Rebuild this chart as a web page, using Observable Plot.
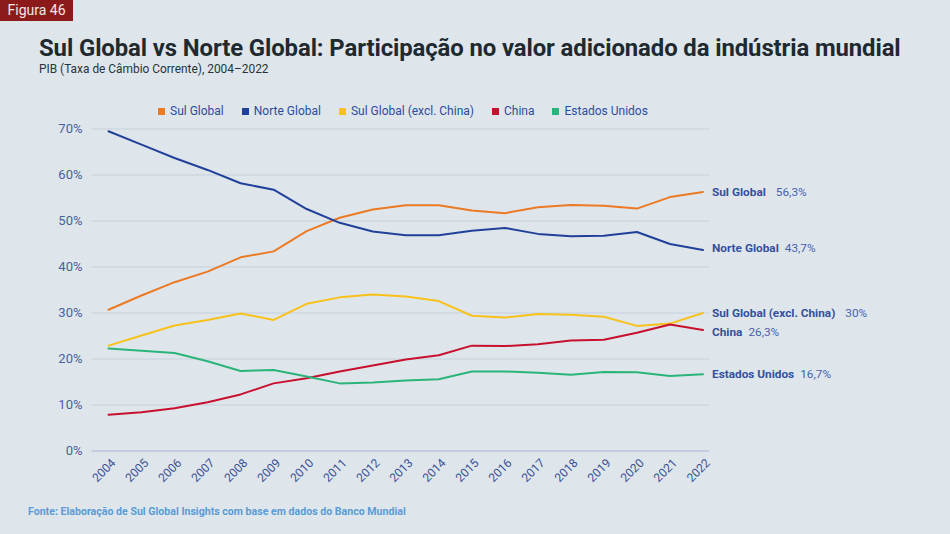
<!DOCTYPE html>
<html>
<head>
<meta charset="utf-8">
<script src="https://cdn.jsdelivr.net/npm/d3@7"></script>
<script src="https://cdn.jsdelivr.net/npm/@observablehq/plot@0.6"></script>
<style>
  html, body { margin: 0; padding: 0; }
  body { width: 950px; height: 534px; background: #dee6ec; font-family: Roboto, "Noto Sans", sans-serif; position: relative; overflow: hidden; }
  #badge { position: absolute; left: 0; top: 0; width: 73px; height: 21px; background: #8c1a1a; color: #f3e6e6; font-size: 14px; line-height: 21px; text-align: center; }
  #title { position: absolute; left: 39px; top: 34px; font-size: 23.9px; font-weight: 700; color: #1e2a30; white-space: nowrap; letter-spacing: -0.1px; }
  #subtitle { position: absolute; left: 39px; top: 62px; font-size: 11.9px; color: #2a3338; white-space: nowrap; }
  #legend { position: absolute; left: 158px; top: 104px; display: flex; gap: 18px; font-size: 12px; color: #2f4b9c; white-space: nowrap; }
  #legend .item { display: flex; align-items: center; gap: 5px; }
  #legend .sw { width: 7px; height: 7px; display: inline-block; }
  #chart { position: absolute; left: 0; top: 100px; }
  #footer { position: absolute; left: 28px; top: 505px; font-size: 10.6px; font-weight: 700; color: #5b9bd6; white-space: nowrap; }
</style>
</head>
<body>
<div id="badge">Figura 46</div>
<div id="title">Sul Global vs Norte Global: Participação no valor adicionado da indústria mundial</div>
<div id="subtitle">PIB (Taxa de Câmbio Corrente), 2004–2022</div>
<div id="legend"></div>
<div id="chart"></div>
<div id="footer">Fonte: Elaboração de Sul Global Insights com base em dados do Banco Mundial</div>
<script>
const years = [2004,2005,2006,2007,2008,2009,2010,2011,2012,2013,2014,2015,2016,2017,2018,2019,2020,2021,2022];
const seriesNames = ["Sul Global", "Norte Global", "Sul Global (excl. China)", "China", "Estados Unidos"];
const seriesColors = ["#ec7a23", "#21409a", "#f8c21a", "#c8102e", "#2bb47a"];
const sulGlobal     = [30.7,33.8,36.7,39.0,42.1,43.4,47.8,50.7,52.5,53.4,53.4,52.3,51.7,53.0,53.5,53.3,52.7,55.2,56.3];
const norteGlobal   = [69.5,66.6,63.7,61.1,58.2,56.8,52.6,49.6,47.7,46.9,46.9,47.9,48.5,47.2,46.7,46.8,47.6,45.0,43.7];
const sulExclChina  = [22.9,25.1,27.3,28.5,29.9,28.5,32.0,33.4,34.0,33.6,32.6,29.4,29.0,29.8,29.6,29.2,27.2,27.7,30.0];
const china         = [7.9,8.4,9.3,10.6,12.3,14.7,15.8,17.3,18.6,19.9,20.8,22.9,22.8,23.2,24.0,24.2,25.7,27.5,26.3];
const estadosUnidos = [22.3,21.8,21.3,19.5,17.4,17.6,16.2,14.7,14.9,15.3,15.6,17.3,17.3,17.0,16.6,17.2,17.1,16.3,16.7];
const endValueLabels = ["56,3%", "43,7%", "30%", "26,3%", "16,7%"];
const yTicks = [0,10,20,30,40,50,60,70];

const allValues = [sulGlobal, norteGlobal, sulExclChina, china, estadosUnidos];
const data = [];
seriesNames.forEach((name, i) => {
  years.forEach((yr, j) => data.push({series: name, year: yr, value: allValues[i][j]}));
});
const lastPoints = seriesNames.map((name, i) => ({series: name, year: years[years.length - 1], value: allValues[i][years.length - 1], label: endValueLabels[i]}));

// legend
const legend = document.getElementById("legend");
seriesNames.forEach((name, i) => {
  const it = document.createElement("span");
  it.className = "item";
  it.innerHTML = `<span class="sw" style="background:${seriesColors[i]}"></span><span>${name}</span>`;
  legend.appendChild(it);
});

const labelColor = "#34509e";
const plot = Plot.plot({
  width: 950,
  height: 400,
  marginTop: 28.5,
  marginBottom: 49.5,
  marginLeft: 108,
  marginRight: 247.5,
  style: {background: "transparent", fontFamily: "Roboto, sans-serif", overflow: "visible"},
  x: {type: "linear", domain: [2004, 2022]},
  y: {domain: [0, 70]},
  color: {domain: seriesNames, range: seriesColors},
  marks: [
    Plot.ruleY(yTicks.filter(d => d > 0), {x1: 2003.5, x2: 2022.2, stroke: "#c5d0da", strokeWidth: 1}),
    Plot.ruleY([0], {x1: 2003.5, x2: 2022.2, stroke: "#a9b3d3", strokeWidth: 1.2}),
    Plot.axisY({ticks: yTicks, tickSize: 0, tickPadding: 26, tickFormat: d => d + "%", fontSize: 13, color: "#4b5e9e", label: null}),
    Plot.axisX({ticks: years, tickSize: 0, tickRotate: -45, tickPadding: 10, tickFormat: d => String(d), fontSize: 12, color: "#3c4f95", label: null, dx: 5}),
    Plot.line(data, {x: "year", y: "value", z: "series", stroke: "series", strokeWidth: 2, curve: "linear"}),
    Plot.text(lastPoints, {x: "year", y: "value", text: "series", dx: 9, textAnchor: "start", fontWeight: 700, fontSize: 11.8, fill: labelColor, className: "endlabel"})
  ]
});
document.getElementById("chart").appendChild(plot);

// append the value part of each end label as a regular-weight tspan; nudge overlapping labels
const gaps = [10, 6, 10, 6, 6];
const nudges = [0, -2, 0, 2, 0];
plot.querySelectorAll(".endlabel text").forEach((t, i) => {
  const ts = document.createElementNS("http://www.w3.org/2000/svg", "tspan");
  ts.setAttribute("dx", gaps[i]);
  ts.setAttribute("font-weight", "400");
  ts.setAttribute("fill", "#4661ad");
  ts.textContent = lastPoints[i].label;
  t.appendChild(ts);
  const tr = t.getAttribute("transform") || "";
  t.setAttribute("transform", `translate(0,${nudges[i]}) ${tr}`);
});
</script>
</body>
</html>
